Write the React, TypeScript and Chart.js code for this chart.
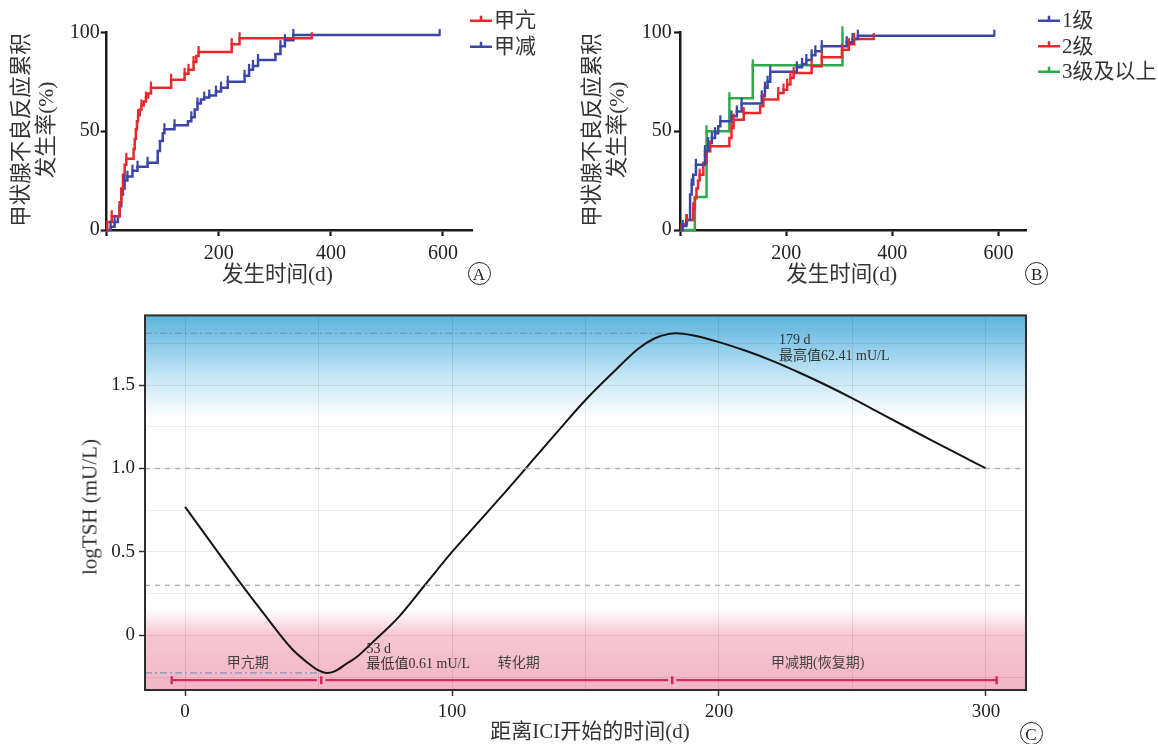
import React, { useEffect, useRef } from 'react';
import { Chart, registerables } from 'chart.js';

Chart.register(...registerables);

const SERIF = '"Liberation Serif", "Noto Sans CJK SC", serif';

// ---------- Panel A: 甲亢 vs 甲减 ----------
const hyperTimes = [0, 1, 9, 23, 26, 29, 32, 35, 48, 50, 52, 54, 56, 59, 62, 66, 70, 74, 79, 115, 139, 146, 155, 160, 164, 223, 237, 366];
const hyperValues = [0, 4, 7, 14, 21, 28, 33, 36, 41, 46, 51, 55, 58, 61, 63, 65, 67, 69, 72, 76, 79, 81, 85, 88, 90, 94, 97, 97];
const hyperCensor = [9, 35, 56, 62, 70, 79, 115, 139, 146, 155, 164, 223, 237, 366];

const hypoTimes = [0, 7, 14, 20, 23, 26, 29, 32, 37, 46, 55, 73, 91, 95, 100, 103, 121, 145, 151, 157, 162, 168, 174, 183, 195, 204, 216, 246, 254, 261, 270, 301, 310, 318, 333, 594];
const hypoValues = [0, 1.7, 4, 7, 12, 18, 21, 25, 27, 30, 32, 34, 40, 45, 49, 51, 53, 55, 57, 61, 64, 66, 67, 68, 70, 72, 75, 78, 81, 83, 86, 89, 93, 96, 98.6, 98.6];
const hypoCensor = [7, 14, 32, 37, 46, 55, 73, 103, 121, 151, 162, 174, 183, 195, 204, 216, 246, 254, 261, 270, 310, 318, 333, 594];

// ---------- Panel B: grade ----------
const g1Times = [0, 5, 12, 19, 22, 25, 30, 47, 53, 60, 66, 72, 76, 97, 107, 116, 154, 160, 165, 170, 220, 230, 238, 248, 255, 267, 314, 325, 335, 592];
const g1Values = [0, 2, 5, 18, 23, 28, 33, 40, 44, 46.5, 49, 52.5, 55, 57.5, 60, 64, 67.6, 72, 75, 80, 82.3, 84, 86, 88.4, 90.4, 93, 95, 96.6, 98.3, 98.3];
const g1Censor = [5, 12, 22, 30, 47, 53, 60, 66, 76, 97, 107, 116, 154, 160, 165, 170, 220, 230, 238, 248, 255, 267, 314, 325, 335, 592];

const g2Times = [0, 3, 13, 25, 28, 31, 34, 37, 44, 50, 57, 93, 97, 101, 120, 151, 157, 185, 195, 202, 208, 214, 248, 267, 305, 318, 328, 365];
const g2Values = [0, 3, 5, 11, 16, 21, 25, 28, 34, 39.8, 42.3, 46.5, 51.6, 55.8, 59.2, 62.6, 66, 69.3, 71, 73.6, 76.9, 79.4, 82.8, 87.4, 91.2, 94, 96.6, 96.6];
const g2Censor = [13, 25, 37, 57, 97, 101, 120, 157, 185, 195, 202, 208, 214, 248, 267, 305, 318, 328, 365];

const g3Times = [0, 28, 50, 93, 137, 306];
const g3Values = [0, 16.7, 50, 66.7, 83.3, 100];
const g3Censor = [50, 93, 137, 306];

const kmXTicks = [0, 200, 400, 600];
const kmYTicks = [0, 50, 100];

// ---------- Panel C: logTSH ----------
const tshDays = [0, 10, 20, 30, 40, 46, 50, 53, 56, 60, 65, 70, 80, 90, 100, 110, 120, 130, 140, 150, 160, 170, 176, 181, 184, 190, 200, 210, 220, 230, 240, 250, 260, 270, 280, 290, 300];
const tshLog = [0.77, 0.55, 0.33, 0.12, -0.08, -0.165, -0.21, -0.225, -0.215, -0.175, -0.12, -0.045, 0.11, 0.305, 0.5, 0.68, 0.86, 1.045, 1.23, 1.41, 1.57, 1.72, 1.78, 1.805, 1.81, 1.798, 1.757, 1.705, 1.645, 1.575, 1.5, 1.42, 1.335, 1.25, 1.165, 1.083, 1.0];
const peakLog = 1.81;
const peakLineEnd = 181;
const nadirLog = -0.225;
const nadirLineEnd = 51;
const refLevels = [0.3, 1.0];
const phaseBounds = [-5, 51, 182.5, 304];
const phaseNames = ['甲亢期', '转化期', '甲减期(恢复期)'];
const phaseLabelX = [23.5, 125, 237];
const phaseLabelY = -0.17;
const phaseBarY = -0.268;
const cXTicks = [0, 50, 100, 150, 200, 250, 300];
const cYTicks = [-0.25, 0, 0.25, 0.5, 0.75, 1.0, 1.25, 1.5, 1.75];
const cNotes = [
  { text: '53 d', x: 68, y: -0.083 },
  { text: '最低值0.61 mU/L', x: 68, y: -0.173 },
  { text: '179 d', x: 222.5, y: 1.768 },
  { text: '最高值62.41 mU/L', x: 222.5, y: 1.673 },
];

const RED = '#e8282c';
const BLUE = '#3b46a6';
const GREEN = '#30a84a';

function stepValue(times: number[], values: number[], t: number) {
  let v = values[0];
  for (let i = 0; i < times.length; i++) if (times[i] <= t) v = values[i];
  return v;
}

function kmDataset(label: string, times: number[], values: number[], censor: number[], color: string) {
  return {
    label,
    data: times.map((t, i) => ({ x: t, y: values[i] })),
    borderColor: color,
    backgroundColor: color,
    borderWidth: 2.5,
    stepped: 'before' as const,
    pointRadius: 0,
    fill: false,
    clip: false as any,
    censor,
    kmTimes: times,
    kmValues: values,
  };
}

const censorPlugin = {
  id: 'censor',
  afterDatasetsDraw(chart: any) {
    const { ctx } = chart;
    const xs = chart.scales.x;
    const ys = chart.scales.y;
    ctx.save();
    chart.data.datasets.forEach((ds: any) => {
      if (!ds.censor) return;
      ctx.strokeStyle = ds.borderColor;
      ctx.lineWidth = 2.2;
      ds.censor.forEach((t: number) => {
        const x = xs.getPixelForValue(t);
        const y = ys.getPixelForValue(stepValue(ds.kmTimes, ds.kmValues, t));
        ctx.beginPath();
        ctx.moveTo(x, y + 1);
        ctx.lineTo(x, y - 6);
        ctx.stroke();
      });
    });
    ctx.restore();
  },
};

const kmLegend = {
  id: 'kmLegend',
  afterDraw(chart: any, _args: any, opts: any) {
    if (!opts || opts.x == null) return;
    const { ctx } = chart;
    ctx.save();
    chart.data.datasets.forEach((ds: any, i: number) => {
      const y = opts.y + i * opts.dy;
      ctx.strokeStyle = ds.borderColor;
      ctx.lineWidth = 2.5;
      ctx.beginPath();
      ctx.moveTo(opts.x, y);
      ctx.lineTo(opts.x + opts.len, y);
      ctx.moveTo(opts.x + opts.len / 2, y);
      ctx.lineTo(opts.x + opts.len / 2, y - 5);
      ctx.stroke();
      ctx.fillStyle = '#333';
      ctx.font = `${opts.size}px ${SERIF}`;
      ctx.textBaseline = 'middle';
      ctx.textAlign = 'left';
      ctx.fillText(ds.label, opts.x + opts.len + 2, y + 1);
    });
    ctx.restore();
  },
};

function kmConfig(datasets: any[], lay: any) {
  return {
    type: 'line' as const,
    data: { datasets },
    plugins: [censorPlugin, kmLegend],
    options: {
      responsive: false,
      animation: false as const,
      events: [],
      layout: { padding: { left: 0, right: lay.padRight, top: lay.padTop, bottom: 0 } },
      plugins: {
        legend: { display: false },
        tooltip: { enabled: false },
        kmLegend: lay.legend,
      },
      scales: {
        x: {
          type: 'linear' as const,
          min: 0,
          max: 653,
          afterBuildTicks: (s: any) => { s.ticks = kmXTicks.map((v) => ({ value: v })); },
          afterFit: (s: any) => { s.height = lay.xHeight; },
          grid: { display: true, drawOnChartArea: false, drawTicks: true, tickLength: 6, tickWidth: 2.2, tickColor: '#1a1a1a' },
          border: { display: true, color: '#1a1a1a', width: 2.5 },
          ticks: {
            autoSkip: false, maxRotation: 0, padding: 6,
            callback: (v: any) => (v === 0 ? '' : String(v)),
            font: { family: SERIF, size: 20 }, color: '#222',
          },
        },
        y: {
          type: 'linear' as const,
          min: 0,
          max: 100,
          afterBuildTicks: (s: any) => { s.ticks = kmYTicks.map((v) => ({ value: v })); },
          afterFit: (s: any) => { s.width = lay.yWidth; },
          grid: { display: true, drawOnChartArea: false, drawTicks: true, tickLength: 6, tickWidth: 2.2, tickColor: '#1a1a1a' },
          border: { display: true, color: '#1a1a1a', width: 2.5 },
          ticks: {
            autoSkip: false, padding: lay.yPad,
            callback: (v: any) => String(v),
            font: { family: SERIF, size: 20 }, color: '#222',
          },
        },
      },
    },
  };
}

const bgGrad = {
  id: 'bgGrad',
  beforeDraw(chart: any, _a: any, opts: any) {
    const { ctx, chartArea: a } = chart;
    const ys = chart.scales.y;
    const g = ctx.createLinearGradient(0, a.top, 0, a.bottom);
    (opts.stops || []).forEach((s: any) => {
      let p = (ys.getPixelForValue(s.v) - a.top) / (a.bottom - a.top);
      p = Math.max(0, Math.min(1, p));
      g.addColorStop(p, s.color);
    });
    ctx.save();
    ctx.fillStyle = g;
    ctx.fillRect(a.left, a.top, a.right - a.left, a.bottom - a.top);
    ctx.restore();
  },
  afterDraw(chart: any) {
    const { ctx, chartArea: a } = chart;
    ctx.save();
    ctx.strokeStyle = '#2e2e2e';
    ctx.lineWidth = 2;
    ctx.strokeRect(a.left, a.top, a.right - a.left, a.bottom - a.top);
    ctx.restore();
  },
};

const cText = {
  id: 'cText',
  afterDatasetsDraw(chart: any) {
    const { ctx } = chart;
    const xs = chart.scales.x;
    const ys = chart.scales.y;
    ctx.save();
    ctx.font = `14px ${SERIF}`;
    ctx.textBaseline = 'middle';
    ctx.fillStyle = '#333';
    ctx.textAlign = 'left';
    cNotes.forEach((n) => ctx.fillText(n.text, xs.getPixelForValue(n.x), ys.getPixelForValue(n.y)));
    ctx.fillStyle = '#444';
    ctx.textAlign = 'center';
    phaseNames.forEach((n, i) => ctx.fillText(n, xs.getPixelForValue(phaseLabelX[i]), ys.getPixelForValue(phaseLabelY)));
    ctx.restore();
  },
};

function cConfig() {
  const xMin = -15;
  const xMax = 315;
  const PINK = '#d42a5c';
  const datasets: any[] = [];
  refLevels.forEach((lv) => {
    datasets.push({
      data: [{ x: xMin, y: lv }, { x: xMax, y: lv }],
      borderColor: '#b0b0b0', borderWidth: 1.5, borderDash: [5, 5], pointRadius: 0,
    });
  });
  datasets.push({
    data: [{ x: xMin, y: peakLog }, { x: peakLineEnd, y: peakLog }],
    borderColor: '#6d8fb3', borderWidth: 1.2, borderDash: [7, 3, 2, 3], pointRadius: 0,
  });
  datasets.push({
    data: [{ x: xMin, y: nadirLog }, { x: nadirLineEnd, y: nadirLog }],
    borderColor: '#7f98bd', borderWidth: 1.2, borderDash: [7, 3, 2, 3], pointRadius: 0,
  });
  for (let i = 0; i < phaseBounds.length - 1; i++) {
    const s = phaseBounds[i] + (i === 0 ? 0 : 1.6);
    const e = phaseBounds[i + 1] - (i === phaseBounds.length - 2 ? 0 : 1.6);
    datasets.push({
      data: [{ x: s, y: phaseBarY }, { x: e, y: phaseBarY }],
      borderColor: PINK, borderWidth: 2.2, pointRadius: 0,
    });
  }
  datasets.push({
    data: phaseBounds.map((b) => ({ x: b, y: phaseBarY })),
    showLine: false,
    pointStyle: 'line', rotation: 90, pointRadius: 4, borderWidth: 2.5,
    borderColor: PINK, backgroundColor: PINK,
  });
  datasets.push({
    data: tshDays.map((d, i) => ({ x: d, y: tshLog[i] })),
    borderColor: '#151515', borderWidth: 2, pointRadius: 0,
    cubicInterpolationMode: 'monotone',
  });
  return {
    type: 'line' as const,
    data: { datasets },
    plugins: [bgGrad, cText],
    options: {
      responsive: false,
      animation: false as const,
      events: [],
      layout: { padding: { left: 0, right: 132, top: 13, bottom: 0 } },
      plugins: {
        legend: { display: false },
        tooltip: { enabled: false },
        bgGrad: {
          stops: [
            { v: 1.917, color: '#5cb3db' },
            { v: 1.76, color: '#86c8e8' },
            { v: 1.56, color: '#c2e5f4' },
            { v: 1.3, color: '#ffffff' },
            { v: 0.16, color: '#ffffff' },
            { v: 0.0, color: '#f6c6d3' },
            { v: -0.327, color: '#f2b5c5' },
          ],
        },
      },
      scales: {
        x: {
          type: 'linear' as const,
          min: xMin,
          max: xMax,
          afterBuildTicks: (s: any) => { s.ticks = cXTicks.map((v) => ({ value: v })); },
          afterFit: (s: any) => { s.height = 54; },
          grid: {
            display: true, drawOnChartArea: true, drawTicks: true, tickLength: 6,
            color: 'rgba(0,0,0,0.09)', lineWidth: 1,
            tickColor: (c: any) => (c.tick && c.tick.value % 100 === 0 ? '#333' : 'rgba(0,0,0,0)'),
            tickWidth: 1.5,
          },
          border: { display: false },
          ticks: {
            autoSkip: false, maxRotation: 0, padding: 5,
            callback: (v: any) => (v % 100 === 0 ? String(v) : ''),
            font: { family: SERIF, size: 19 }, color: '#222',
          },
        },
        y: {
          type: 'linear' as const,
          min: -0.327,
          max: 1.917,
          afterBuildTicks: (s: any) => { s.ticks = cYTicks.map((v) => ({ value: v })); },
          afterFit: (s: any) => { s.width = 145; },
          grid: {
            display: true, drawOnChartArea: true, drawTicks: true, tickLength: 6,
            color: 'rgba(0,0,0,0.08)', lineWidth: 1,
            tickColor: (c: any) => (c.tick && Math.abs((c.tick.value * 2) % 1) < 1e-6 ? '#333' : 'rgba(0,0,0,0)'),
            tickWidth: 1.5,
          },
          border: { display: false },
          ticks: {
            autoSkip: false, padding: 4,
            callback: (v: any) => {
              if (Math.abs((v * 2) % 1) > 1e-6) return '';
              return v === 0 ? '0' : Number(v).toFixed(1);
            },
            font: { family: SERIF, size: 19 }, color: '#222',
          },
        },
      },
    },
  };
}

function ChartCanvas({ left, top, width, height, make }: any) {
  const ref = useRef<HTMLCanvasElement | null>(null);
  useEffect(() => {
    if (!ref.current) return;
    const chart = new Chart(ref.current, make());
    return () => chart.destroy();
  }, []);
  return (
    <canvas
      ref={ref}
      width={width}
      height={height}
      style={{ position: 'absolute', left, top, width, height }}
    />
  );
}

function Label({ x, y, text, size = 21, rotate = false, color = '#333' }: any) {
  return (
    <div
      style={{
        position: 'absolute', left: x, top: y,
        transform: rotate ? 'translate(-50%,-50%) rotate(-90deg)' : 'translate(-50%,-50%)',
        whiteSpace: 'nowrap', fontSize: size, fontFamily: SERIF, color, lineHeight: 1,
      }}
    >
      {text}
    </div>
  );
}

function Circled({ x, y, letter }: any) {
  return (
    <div
      style={{
        position: 'absolute', left: x - 11.5, top: y - 11.5, width: 21, height: 21,
        border: '1.3px solid #222', borderRadius: '50%',
        display: 'flex', alignItems: 'center', justifyContent: 'center',
        fontFamily: '"Liberation Serif", serif', fontSize: 17, color: '#222', lineHeight: 1,
      }}
    >
      <span style={{ position: 'relative', top: 1 }}>{letter}</span>
    </div>
  );
}

export default function App() {
  const makeA = () =>
    kmConfig(
      [
        kmDataset('甲亢', hyperTimes, hyperValues, hyperCensor, RED),
        kmDataset('甲减', hypoTimes, hypoValues, hypoCensor, BLUE),
      ],
      { padRight: 87.3, padTop: 32.3, xHeight: 70, yWidth: 106.7, yPad: 1, legend: { x: 470, y: 20.7, dy: 26, len: 22, size: 21 } },
    );
  const makeB = () =>
    kmConfig(
      [
        kmDataset('1级', g1Times, g1Values, g1Censor, BLUE),
        kmDataset('2级', g2Times, g2Values, g2Censor, RED),
        kmDataset('3级及以上', g3Times, g3Values, g3Censor, GREEN),
      ],
      { padRight: 131.3, padTop: 32.3, xHeight: 70, yWidth: 110, yPad: 2.3, legend: { x: 468, y: 20.7, dy: 25.5, len: 22, size: 21 } },
    );
  return (
    <div style={{ position: 'absolute', left: 0, top: 0, width: 1158, height: 744, background: '#fff', overflow: 'hidden' }}>
      <ChartCanvas left={0} top={0} width={560} height={300} make={makeA} />
      <ChartCanvas left={570} top={0} width={588} height={300} make={makeB} />
      <ChartCanvas left={0} top={300} width={1158} height={444} make={cConfig} />

      <Label x={21.7} y={130} text="甲状腺不良反应累积" size={21.5} rotate />
      <Label x={46.7} y={130} text="发生率(%)" size={21.5} rotate />
      <Label x={277.5} y={275} text="发生时间(d)" size={21.5} />
      <Circled x={479} y={273} letter="A" />

      <Label x={593} y={130} text="甲状腺不良反应累积" size={21.5} rotate />
      <Label x={618} y={130} text="发生率(%)" size={21.5} rotate />
      <Label x={841.7} y={275} text="发生时间(d)" size={21.5} />
      <Circled x={1036.7} y={273} letter="B" />

      <Label x={90} y={507} text="logTSH (mU/L)" size={21} rotate />
      <Label x={590} y={731} text="距离ICI开始的时间(d)" size={21} />
      <Circled x={1031} y={733} letter="C" />
    </div>
  );
}
